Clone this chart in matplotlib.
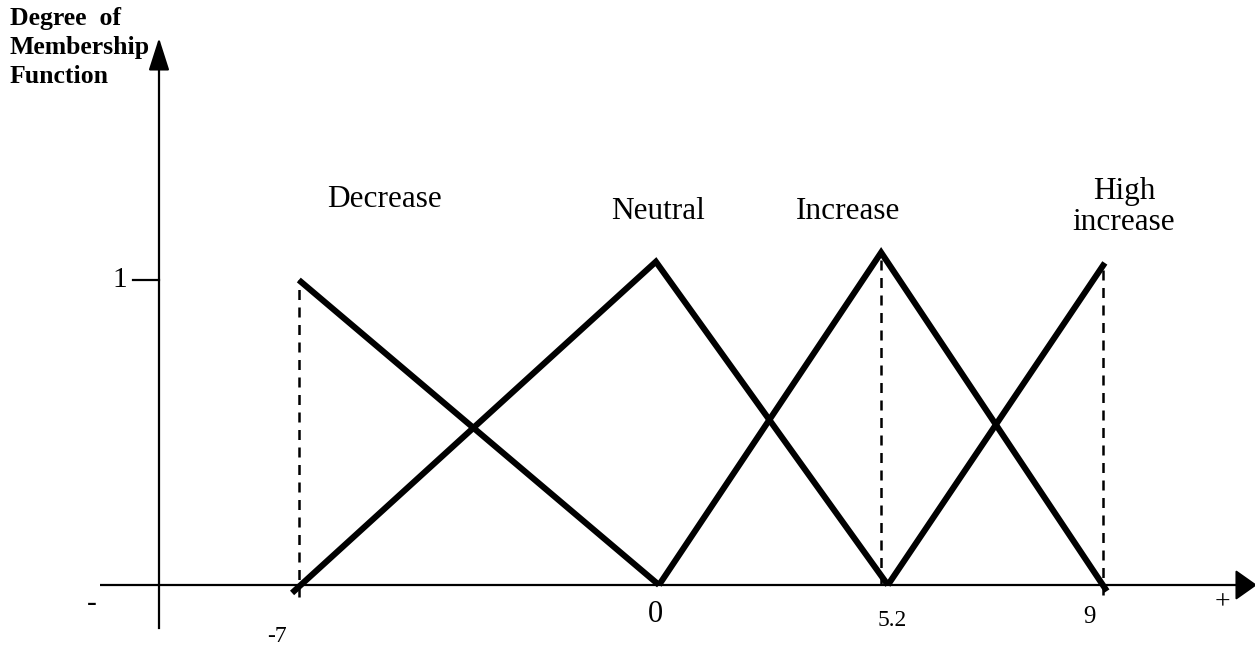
import matplotlib
matplotlib.use("Agg")
import matplotlib.pyplot as plt

# ---------------- data ----------------
set_names = ["Decrease", "Neutral", "Increase", "High\nincrease"]
decrease_x = [-6.94, 0.0]
decrease_y = [1.0, 0.0]
neutral_x = [-7.07, -0.06, 4.41]
neutral_y = [-0.026, 1.06, 0.0]
increase_x = [0.0, 4.28, 8.63]
increase_y = [0.0, 1.09, -0.02]
high_x = [4.41, 8.59]
high_y = [0.0, 1.056]
# dashed guide lines: x position, top, bottom
guide_x = [-6.94, 4.28, 8.55]
guide_top = [1.0, 1.09, 1.056]
guide_bottom = [-0.04, 0.0, -0.033]
tick_labels = ["-7", "0", "5.2", "9"]

# ---------------- figure ----------------
W, H = 1255, 650
fig = plt.figure(figsize=(W / 100, H / 100), dpi=100)
ax = fig.add_axes([0, 0, 1, 1])
X0, XS, Y0, YS = 659.0, 51.9, 585.0, 305.0
def px2x(p): return (p - X0) / XS
def px2y(p): return (Y0 - p) / YS
ax.set_xlim(px2x(0), px2x(W))
ax.set_ylim(px2y(H), px2y(0))
ax.axis("off")

serif = ["Liberation Serif", "DejaVu Serif"]

# axes
ax.plot([px2x(100), px2x(1240)], [0, 0], color="black", lw=1.6, solid_capstyle="butt")
ax.annotate("", xy=(px2x(1257), 0), xytext=(px2x(1239), 0), annotation_clip=False,
            arrowprops=dict(arrowstyle="-|>,head_length=0.85,head_width=0.6",
                            mutation_scale=16, color="black", lw=1.4, shrinkA=0, shrinkB=0))
ax.plot([px2x(159), px2x(159)], [px2y(628), px2y(60)], color="black", lw=1.6)
ax.annotate("", xy=(px2x(159), px2y(38)), xytext=(px2x(159), px2y(64)), annotation_clip=False,
            arrowprops=dict(arrowstyle="-|>,head_length=1.25,head_width=0.4",
                            mutation_scale=16, color="black", lw=1.6, shrinkA=0, shrinkB=0))
# tick for 1
ax.plot([px2x(133), px2x(159)], [1, 1], color="black", lw=1.6)

# membership functions
for xs, ys in [(decrease_x, decrease_y), (neutral_x, neutral_y),
               (increase_x, increase_y), (high_x, high_y)]:
    ax.plot(xs, ys, color="black", lw=4.4, solid_capstyle="butt", solid_joinstyle="miter")

# dashed guides
for gx, gt, gb in zip(guide_x, guide_top, guide_bottom):
    ax.plot([gx, gx], [gb, gt], color="black", lw=1.8, linestyle=(0, (4, 3)))

# set labels
label_pos = [(385, 200), (658, 212), (848, 212), (1124, 207)]
for name, (px, py) in zip(set_names, label_pos):
    ax.text(px2x(px), px2y(py), name, family=serif, fontsize=22.5, ha="center",
            va="center", linespacing=1.05)

# tick labels
tick_pos = [(277, 636, 17), (655, 615, 22), (892, 620, 17), (1089, 617, 18)]
for lab, (px, py, fs) in zip(tick_labels, tick_pos):
    ax.text(px2x(px), px2y(py), lab, family=serif, fontsize=fs, ha="center", va="center")

ax.text(px2x(120), px2y(280), "1", family=serif, fontsize=21, ha="center", va="center")
ax.text(px2x(92), px2y(604), "-", family=serif, fontsize=21, ha="center", va="center")
ax.text(px2x(1222), px2y(603), "+", family=serif, fontsize=20, ha="center", va="center")

# y axis title
ax.text(px2x(10), px2y(7), "Degree  of\nMembership\nFunction", family=serif,
        fontsize=18.5, fontweight="bold", ha="left", va="top", linespacing=1.32)

fig.savefig("out.png", dpi=100)
